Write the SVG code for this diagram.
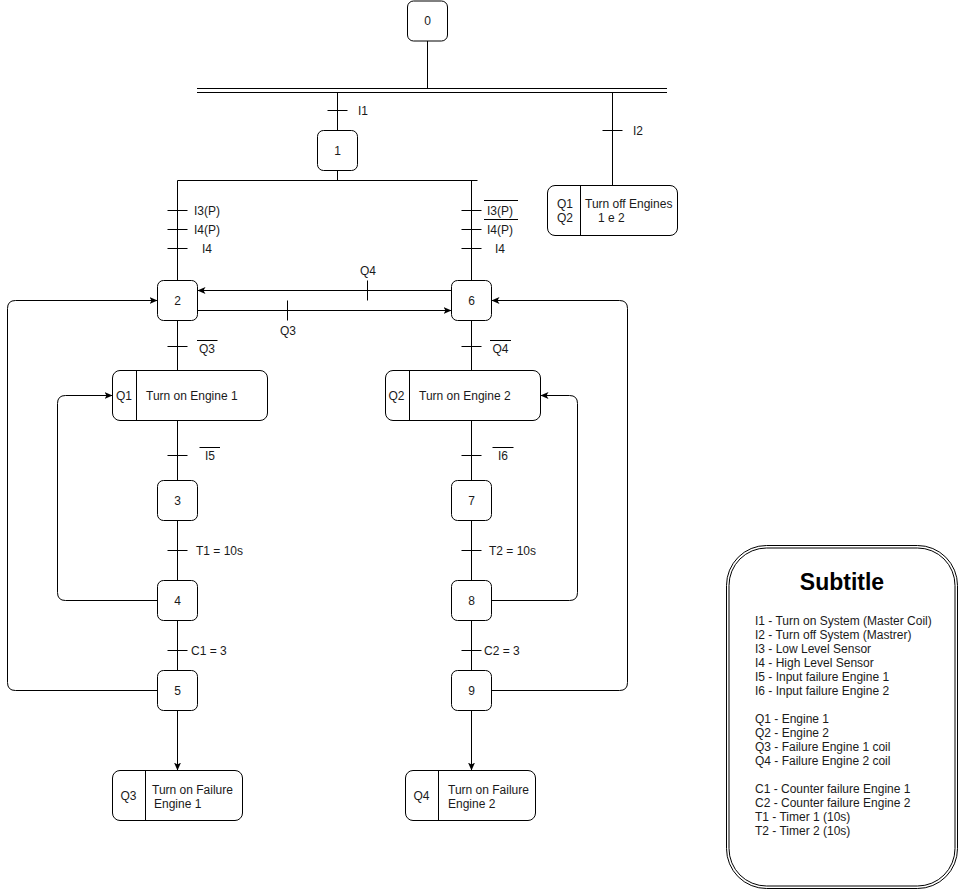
<svg xmlns="http://www.w3.org/2000/svg" width="958" height="891" viewBox="0 0 958 891">
  <style>
    .box { fill: #ffffff; stroke: #000000; stroke-width: 1; }
    .ln { fill: none; stroke: #000000; stroke-width: 1; }
    .t { font-family: "Liberation Sans", Arial, sans-serif; font-size: 12px; fill: #1a1a1a; }
    .c { text-anchor: middle; }
    .title { font-family: "Liberation Sans", Arial, sans-serif; font-size: 23px; font-weight: bold; fill: #000000; text-anchor: middle; }
  </style>
  <defs>
    <marker id="arrow" markerUnits="userSpaceOnUse" viewBox="0 0 8 8" refX="8" refY="4" markerWidth="8" markerHeight="8" orient="auto">
      <path d="M0,0.5 L8,4 L0,7.5 L2,4 Z" fill="#000000"/>
    </marker>
  </defs>
  <rect width="958" height="891" fill="#ffffff"/>

  <!-- connectors, transition ticks and conditions -->
  <g id="connectors">
    <!-- step 0 to the double bus -->
    <line class="ln" x1="427.5" y1="41" x2="427.5" y2="88.5"/>
    <line class="ln" x1="197" y1="88.5" x2="667" y2="88.5"/>
    <line class="ln" x1="197" y1="92.5" x2="667" y2="92.5"/>

    <!-- bus to step 1 (I1) -->
    <line class="ln" x1="337.5" y1="92.5" x2="337.5" y2="130.5"/>
    <line class="ln" x1="327.5" y1="110.5" x2="347.5" y2="110.5"/>
    <text class="t" x="358" y="114.5">I1</text>

    <!-- bus to shutdown action (I2) -->
    <line class="ln" x1="612.5" y1="92.5" x2="612.5" y2="185.5"/>
    <line class="ln" x1="602.5" y1="130.5" x2="622.5" y2="130.5"/>
    <text class="t" x="633" y="134.5">I2</text>

    <!-- step 1 divergence -->
    <line class="ln" x1="337.5" y1="170.5" x2="337.5" y2="180.5"/>
    <line class="ln" x1="177.5" y1="180.5" x2="477.5" y2="180.5"/>

    <!-- left branch to step 2 -->
    <line class="ln" x1="177.5" y1="180.5" x2="177.5" y2="280.5"/>
    <line class="ln" x1="167.5" y1="210.5" x2="187.5" y2="210.5"/>
    <line class="ln" x1="167.5" y1="229.5" x2="187.5" y2="229.5"/>
    <line class="ln" x1="167.5" y1="248.5" x2="187.5" y2="248.5"/>
    <text class="t c" x="207" y="215">I3(P)</text>
    <text class="t c" x="207" y="233.5">I4(P)</text>
    <text class="t c" x="207" y="252.5">I4</text>

    <!-- right branch to step 6 -->
    <line class="ln" x1="471.5" y1="180.5" x2="471.5" y2="280.5"/>
    <line class="ln" x1="461.5" y1="210.5" x2="481.5" y2="210.5"/>
    <line class="ln" x1="461.5" y1="229.5" x2="481.5" y2="229.5"/>
    <line class="ln" x1="461.5" y1="248.5" x2="481.5" y2="248.5"/>
    <text class="t c" x="500" y="215">I3(P)</text>
    <line class="ln" x1="484" y1="200.5" x2="518" y2="200.5"/>
    <text class="t c" x="500" y="233.5">I4(P)</text>
    <line class="ln" x1="484" y1="219.5" x2="518" y2="219.5"/>
    <text class="t c" x="500" y="252.5">I4</text>

    <!-- cross links between steps 2 and 6 -->
    <line class="ln" x1="451.5" y1="290.5" x2="197.5" y2="290.5" marker-end="url(#arrow)"/>
    <line class="ln" x1="367.5" y1="280.5" x2="367.5" y2="300.5"/>
    <text class="t c" x="368" y="275">Q4</text>
    <line class="ln" x1="197.5" y1="310.5" x2="451.5" y2="310.5" marker-end="url(#arrow)"/>
    <line class="ln" x1="287.5" y1="300.5" x2="287.5" y2="320.5"/>
    <text class="t c" x="288" y="335">Q3</text>

    <!-- left sequence -->
    <line class="ln" x1="177.5" y1="320.5" x2="177.5" y2="370.5"/>
    <line class="ln" x1="167.5" y1="346.5" x2="187.5" y2="346.5"/>
    <text class="t c" x="207" y="353">Q3</text>
    <line class="ln" x1="197" y1="340.5" x2="217.5" y2="340.5"/>

    <line class="ln" x1="177.5" y1="420.5" x2="177.5" y2="480.5"/>
    <line class="ln" x1="167.5" y1="455.5" x2="187.5" y2="455.5"/>
    <text class="t c" x="210" y="460">I5</text>
    <line class="ln" x1="199.5" y1="447.5" x2="220" y2="447.5"/>

    <line class="ln" x1="177.5" y1="520.5" x2="177.5" y2="580.5"/>
    <line class="ln" x1="167.5" y1="550.5" x2="187.5" y2="550.5"/>
    <text class="t" x="196" y="554.5">T1 = 10s</text>

    <line class="ln" x1="177.5" y1="620.5" x2="177.5" y2="670.5"/>
    <line class="ln" x1="167.5" y1="650.5" x2="187.5" y2="650.5"/>
    <text class="t" x="191" y="655">C1 = 3</text>

    <line class="ln" x1="177.5" y1="710.5" x2="177.5" y2="770.5" marker-end="url(#arrow)"/>

    <!-- left loops -->
    <path class="ln" d="M157.5,600.5 H65.5 Q57.5,600.5 57.5,592.5 V403.5 Q57.5,395.5 65.5,395.5 H112.5" marker-end="url(#arrow)"/>
    <path class="ln" d="M157.5,690.5 H15.5 Q7.5,690.5 7.5,682.5 V308.5 Q7.5,300.5 15.5,300.5 H157.5" marker-end="url(#arrow)"/>

    <!-- right sequence -->
    <line class="ln" x1="471.5" y1="320.5" x2="471.5" y2="370.5"/>
    <line class="ln" x1="461.5" y1="346.5" x2="481.5" y2="346.5"/>
    <text class="t c" x="500.5" y="353">Q4</text>
    <line class="ln" x1="490" y1="340.5" x2="511" y2="340.5"/>

    <line class="ln" x1="471.5" y1="420.5" x2="471.5" y2="480.5"/>
    <line class="ln" x1="461.5" y1="455.5" x2="481.5" y2="455.5"/>
    <text class="t c" x="503" y="460">I6</text>
    <line class="ln" x1="492.5" y1="447.5" x2="513.5" y2="447.5"/>

    <line class="ln" x1="471.5" y1="520.5" x2="471.5" y2="580.5"/>
    <line class="ln" x1="461.5" y1="550.5" x2="481.5" y2="550.5"/>
    <text class="t" x="489" y="554.5">T2 = 10s</text>

    <line class="ln" x1="471.5" y1="620.5" x2="471.5" y2="670.5"/>
    <line class="ln" x1="461.5" y1="650.5" x2="481.5" y2="650.5"/>
    <text class="t" x="484" y="655">C2 = 3</text>

    <line class="ln" x1="471.5" y1="710.5" x2="471.5" y2="770.5" marker-end="url(#arrow)"/>

    <!-- right loops -->
    <path class="ln" d="M491.5,600.5 H569.5 Q577.5,600.5 577.5,592.5 V403.5 Q577.5,395.5 569.5,395.5 H540.5" marker-end="url(#arrow)"/>
    <path class="ln" d="M491.5,690.5 H619.5 Q627.5,690.5 627.5,682.5 V308.5 Q627.5,300.5 619.5,300.5 H491.5" marker-end="url(#arrow)"/>
  </g>

  <!-- steps -->
  <g id="step0"><rect class="box" x="407.5" y="1" width="40" height="40" rx="6"/><text class="t c" x="427.5" y="25">0</text></g>
  <g id="step1"><rect class="box" x="317.5" y="130.5" width="40" height="40" rx="6"/><text class="t c" x="337.5" y="154.5">1</text></g>
  <g id="step2"><rect class="box" x="157.5" y="280.5" width="40" height="40" rx="6"/><text class="t c" x="177.5" y="304.5">2</text></g>
  <g id="step3"><rect class="box" x="157.5" y="480.5" width="40" height="40" rx="6"/><text class="t c" x="177.5" y="504.5">3</text></g>
  <g id="step4"><rect class="box" x="157.5" y="580.5" width="40" height="40" rx="6"/><text class="t c" x="177.5" y="604.5">4</text></g>
  <g id="step5"><rect class="box" x="157.5" y="670.5" width="40" height="40" rx="6"/><text class="t c" x="177.5" y="694.5">5</text></g>
  <g id="step6"><rect class="box" x="451.5" y="280.5" width="40" height="40" rx="6"/><text class="t c" x="471.5" y="304.5">6</text></g>
  <g id="step7"><rect class="box" x="451.5" y="480.5" width="40" height="40" rx="6"/><text class="t c" x="471.5" y="504.5">7</text></g>
  <g id="step8"><rect class="box" x="451.5" y="580.5" width="40" height="40" rx="6"/><text class="t c" x="471.5" y="604.5">8</text></g>
  <g id="step9"><rect class="box" x="451.5" y="670.5" width="40" height="40" rx="6"/><text class="t c" x="471.5" y="694.5">9</text></g>

  <!-- actions -->
  <g id="action-off">
    <rect class="box" x="547.5" y="185.5" width="130" height="50" rx="7.5"/>
    <line class="ln" x1="580.5" y1="185.5" x2="580.5" y2="235.5"/>
    <text class="t" x="557" y="207.5">Q1</text>
    <text class="t" x="557" y="221.5">Q2</text>
    <text class="t" x="585" y="207.5">Turn off Engines</text>
    <text class="t" x="598" y="221.5">1 e 2</text>
  </g>
  <g id="action-q1">
    <rect class="box" x="112.5" y="370.5" width="155" height="50" rx="7.5"/>
    <line class="ln" x1="136.5" y1="370.5" x2="136.5" y2="420.5"/>
    <text class="t c" x="124" y="400">Q1</text>
    <text class="t" x="146" y="400">Turn on Engine 1</text>
  </g>
  <g id="action-q2">
    <rect class="box" x="385.5" y="370.5" width="155" height="50" rx="7.5"/>
    <line class="ln" x1="409.5" y1="370.5" x2="409.5" y2="420.5"/>
    <text class="t c" x="396.5" y="400">Q2</text>
    <text class="t" x="419" y="400">Turn on Engine 2</text>
  </g>
  <g id="action-q3">
    <rect class="box" x="112.5" y="770.5" width="130" height="50" rx="7.5"/>
    <line class="ln" x1="145.5" y1="770.5" x2="145.5" y2="820.5"/>
    <text class="t c" x="128.5" y="800">Q3</text>
    <text class="t" x="152" y="793.5">Turn on Failure</text>
    <text class="t" x="154" y="807.5">Engine 1</text>
  </g>
  <g id="action-q4">
    <rect class="box" x="405.5" y="770.5" width="130" height="50" rx="7.5"/>
    <line class="ln" x1="438.5" y1="770.5" x2="438.5" y2="820.5"/>
    <text class="t c" x="421.5" y="800">Q4</text>
    <text class="t" x="448" y="793.5">Turn on Failure</text>
    <text class="t" x="448" y="807.5">Engine 2</text>
  </g>

  <!-- legend -->
  <g id="legend">
    <rect class="box" x="726.5" y="545.5" width="231" height="343" rx="40"/>
    <rect class="ln" x="729" y="548" width="226" height="338" rx="37.5"/>
    <text class="title" x="842" y="590">Subtitle</text>
    <text class="t" x="755">
      <tspan x="755" y="625">I1 - Turn on System (Master Coil)</tspan>
      <tspan x="755" y="639">I2 - Turn off System (Mastrer)</tspan>
      <tspan x="755" y="653">I3 - Low Level Sensor</tspan>
      <tspan x="755" y="667">I4 - High Level Sensor</tspan>
      <tspan x="755" y="681">I5 - Input failure Engine 1</tspan>
      <tspan x="755" y="695">I6 - Input failure Engine 2</tspan>
      <tspan x="755" y="723">Q1 - Engine 1</tspan>
      <tspan x="755" y="737">Q2 - Engine 2</tspan>
      <tspan x="755" y="751">Q3 - Failure Engine 1 coil</tspan>
      <tspan x="755" y="765">Q4 - Failure Engine 2 coil</tspan>
      <tspan x="755" y="793">C1 - Counter failure Engine 1</tspan>
      <tspan x="755" y="807">C2 - Counter failure Engine 2</tspan>
      <tspan x="755" y="821">T1 - Timer 1 (10s)</tspan>
      <tspan x="755" y="835">T2 - Timer 2 (10s)</tspan>
    </text>
  </g>
</svg>
